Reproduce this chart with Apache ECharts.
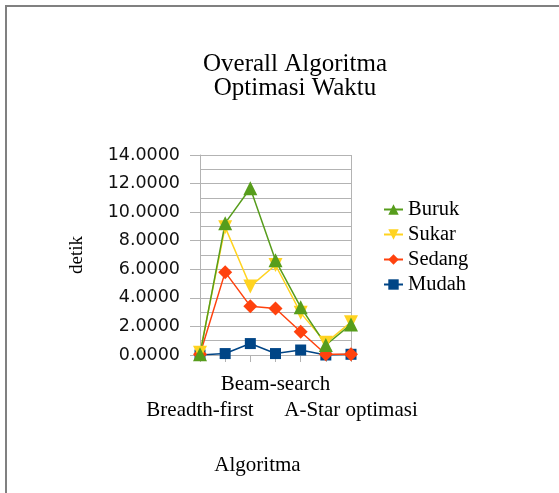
<!DOCTYPE html>
<html>
<head>
<meta charset="utf-8">
<script src="https://cdn.jsdelivr.net/npm/echarts@6/dist/echarts.min.js"></script>
<style>
  html, body { margin: 0; padding: 0; background: #fff; }
  #chart { width: 559px; height: 493px; }
</style>
</head>
<body>
<div id="chart"></div>
<script>
// categories (only some names are shown in the source chart)
const categories = ["Breadth-first", "", "", "Beam-search", "", "", "A-Star optimasi"];
const mudah = [0.0, 0.1, 0.8, 0.1, 0.35, 0.0, 0.05];
const sedang = [0.05, 5.8, 3.42, 3.25, 1.63, 0.05, 0.05];
const sukar = [0.15, 8.95, 4.8, 6.3, 2.95, 0.85, 2.3];
const buruk = [0.05, 9.23, 11.67, 6.63, 3.35, 0.7, 2.14];
const legendOrder = ["Buruk", "Sukar", "Sedang", "Mudah"];

const serif = "'Liberation Serif', 'Times New Roman', serif";
const sans = "'DejaVu Sans', sans-serif";

const chart = echarts.init(document.getElementById("chart"), null, { renderer: "canvas" });

const mkSeries = (name, data, color, symbol, rotate) => ({
  name: name,
  type: "line",
  data: data,
  symbol: symbol,
  symbolSize: symbol === "rect" ? 11 : 14,
  symbolRotate: rotate || 0,
  showAllSymbol: true,
  itemStyle: { color: color },
  lineStyle: { color: color, width: 1.5 },
  emphasis: { disabled: true },
});

const option = {
  animation: false,
  title: {
    text: "Overall Algoritma\nOptimasi Waktu",
    left: 290,
    textAlign: "center",
    top: 47,
    textStyle: {
      fontFamily: serif,
      fontWeight: "normal",
      fontSize: 25,
      lineHeight: 24,
      color: "#000",
    },
  },
  legend: {
    orient: "vertical",
    left: 383,
    top: 199,
    padding: 0,
    itemGap: 4,
    itemWidth: 19,
    itemHeight: 13,
    data: legendOrder,
    textStyle: { fontFamily: serif, fontSize: 20.5, color: "#000" },
  },
  grid: { left: 200, right: 208, top: 155, bottom: 138 },
  xAxis: {
    type: "category",
    data: categories,
    boundaryGap: false,
    name: "Algoritma",
    nameLocation: "middle",
    nameGap: 100,
    nameTextStyle: { fontFamily: serif, fontSize: 21, color: "#000", padding: [0, 36, 0, 0] },
    axisLine: { lineStyle: { color: "#b3b3b3" } },
    axisTick: { show: true, length: 7, interval: 0, lineStyle: { color: "#b3b3b3" } },
    axisLabel: {
      interval: 0,
      margin: 16,
      fontFamily: serif,
      fontSize: 21,
      lineHeight: 26,
      color: "#000",
      formatter: (v, i) => (i === 3 ? v : v ? "\n" + v : ""),
    },
    splitLine: {
      show: true,
      interval: (i) => i === categories.length - 1,
      lineStyle: { color: "#b3b3b3" },
    },
  },
  yAxis: {
    type: "value",
    min: 0,
    max: 14,
    interval: 2,
    name: "detik",
    nameLocation: "middle",
    nameGap: 113,
    nameTextStyle: { fontFamily: serif, fontSize: 19, color: "#000" },
    axisLine: { show: true, lineStyle: { color: "#b3b3b3" } },
    axisTick: { show: true, length: 10, lineStyle: { color: "#b3b3b3" } },
    axisLabel: {
      margin: 20,
      fontFamily: sans,
      fontSize: 17.5,
      color: "#111",
      formatter: (v) => v.toFixed(4),
    },
    splitLine: { show: true, lineStyle: { color: "#b3b3b3" } },
    minorTick: { show: false, splitNumber: 2 },
    minorSplitLine: { show: true, lineStyle: { color: "#b3b3b3" } },
  },
  graphic: [
    { type: "line", shape: { x1: 5, y1: 6, x2: 559, y2: 6 }, style: { stroke: "#808080", lineWidth: 2 } },
    { type: "line", shape: { x1: 6, y1: 5, x2: 6, y2: 493 }, style: { stroke: "#808080", lineWidth: 2 } },
  ],
  series: [
    mkSeries("Mudah", mudah, "#004586", "rect"),
    mkSeries("Sedang", sedang, "#ff420e", "diamond"),
    mkSeries("Sukar", sukar, "#ffd320", "triangle", 180),
    mkSeries("Buruk", buruk, "#579d1c", "triangle"),
  ],
};

chart.setOption(option);
</script>
</body>
</html>
